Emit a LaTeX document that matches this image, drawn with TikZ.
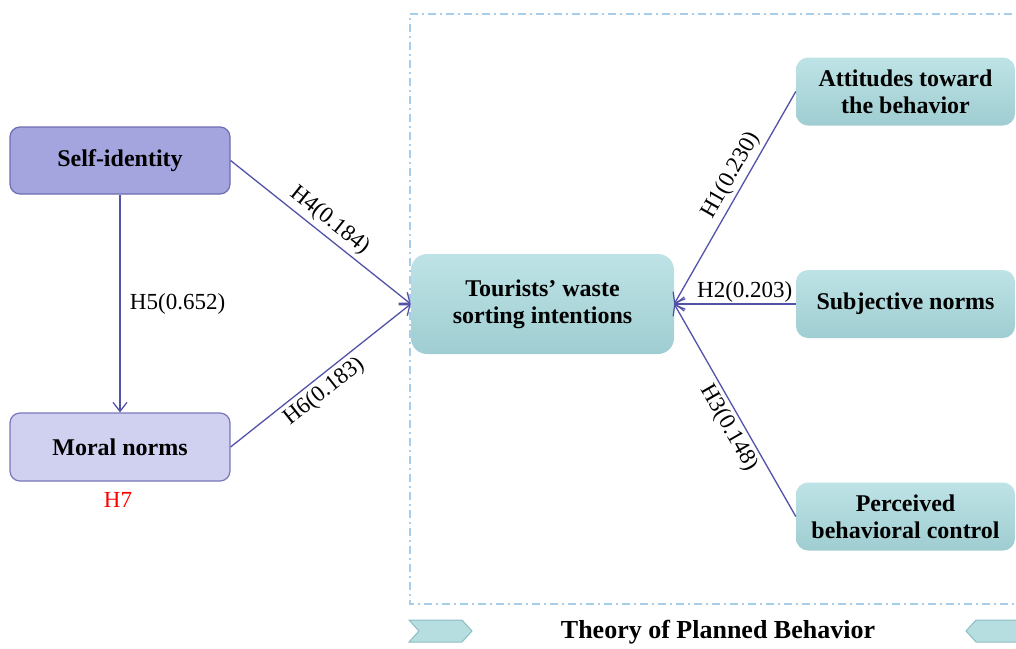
\documentclass[tikz,border=0pt]{standalone}
\usepackage{fontspec}
\setmainfont{Liberation Serif}
\usetikzlibrary{arrows.meta}
\definecolor{arrc}{HTML}{5252A8}
\definecolor{sidfill}{HTML}{A4A4DE}
\definecolor{sidline}{HTML}{6E6EB4}
\definecolor{mnfill}{HTML}{D0D0F0}
\definecolor{mnline}{HTML}{7878BA}
\definecolor{tealtop}{HTML}{BEE3E6}
\definecolor{tealbot}{HTML}{9FCDD1}
\definecolor{dashc}{HTML}{A6CDEA}
\definecolor{chevfill}{HTML}{B6DEE1}
\definecolor{chevline}{HTML}{8CBDC2}
\tikzset{
  nodefont/.style={font=\fontsize{24}{27}\selectfont\bfseries},
  lblfont/.style={font=\fontsize{23}{26}\selectfont},
  purplebox/.style={draw=sidline, fill=sidfill, line width=1.2pt, rounded corners=10pt, minimum width=220pt, minimum height=67pt, nodefont, align=center},
  lightbox/.style={draw=mnline, fill=mnfill, line width=1.2pt, rounded corners=10pt, minimum width=220pt, minimum height=68pt, nodefont, align=center},
  tealbox/.style={top color=tealtop, bottom color=tealbot, rounded corners=12pt, minimum width=219pt, minimum height=68pt, nodefont, align=center},
  arrtip/.tip={Straight Barb[length=9pt,width=14pt,line width=1.3pt]},
  arr/.style={draw=arrc, line width=1.3pt, -arrtip},
  arrback/.style={draw=arrc, line width=1.3pt, arrtip-},
  tpbdash/.style={draw=dashc, line width=2pt, dash pattern=on 8pt off 4pt on 2pt off 4pt},
  chev/.style={fill=chevfill, draw=chevline, line width=1pt}
}
\begin{document}
\begin{tikzpicture}[x=1pt,y=-1pt]
\useasboundingbox (0,0) rectangle (1016,648);
\clip (0,0) rectangle (1016,648);
% dashed frame
\draw[tpbdash] (1030,14) -- (410,14) -- (410,604) -- (1030,604);
% nodes
\node[purplebox] (selfid) at (120,160.5) {Self-identity};
\node[lightbox] (moral) at (120,447) {Moral norms};
\node[text=red, lblfont] (h7) at (118,500) {H7};
\node[tealbox, minimum width=263pt, minimum height=100pt, rounded corners=16pt] (tourist) at (542.5,304) {Tourists’ waste\\sorting intentions};
\node[tealbox] (att) at (905.5,91.5) {Attitudes toward\\the behavior};
\node[tealbox] (subj) at (905.5,304) {Subjective norms};
\node[tealbox] (perc) at (905.5,516.5) {Perceived\\behavioral control};
% arrows
\draw[arr] (selfid.south) -- (moral.north) node[midway, anchor=west, xshift=6pt, lblfont] (l5) {H5(0.652)};
\draw[arr] (selfid.east) -- (tourist.west) node[pos=0.5, sloped, above, lblfont, inner sep=4pt] (l4) {H4(0.184)};
\draw[arr] (moral.east) -- (tourist.west) node[pos=0.47, sloped, below, lblfont, inner sep=4pt] (l6) {H6(0.183)};
\draw[arr] (att.west) -- (tourist.east) node[pos=0.43, sloped, above, lblfont, inner sep=3pt] (l1) {H1(0.230)};
\draw[arr] (subj.west) -- (tourist.east) node[pos=0.42, above, lblfont, inner sep=1pt] (l2) {H2(0.203)};
\draw[arrback] (tourist.east) -- (perc.west) node[pos=0.55, sloped, below, lblfont, inner sep=3pt] (l3) {H3(0.148)};
% bottom banner
\draw[chev] (409,620) -- (462,620) -- (472,631) -- (462,642) -- (409,642) -- (419,631) -- cycle;
\draw[chev] (1030,620) -- (976,620) -- (966,631) -- (976,642) -- (1030,642) -- cycle;
\node[font=\fontsize{26}{30}\selectfont\bfseries] (tpb) at (718,632) {Theory of Planned Behavior};
\end{tikzpicture}
\end{document}
